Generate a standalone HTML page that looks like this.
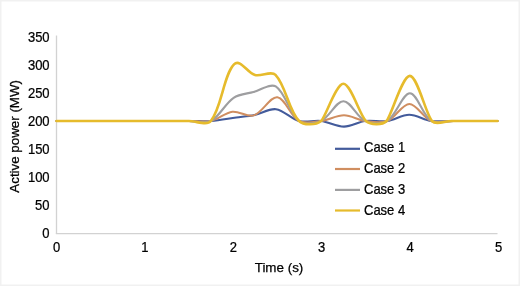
<!DOCTYPE html>
<html><head><meta charset="utf-8"><style>
html,body{margin:0;padding:0;background:#fff;}
body{width:520px;height:286px;overflow:hidden;}
svg{display:block;filter:blur(0.3px);}
text{font-family:"Liberation Sans",sans-serif;font-size:14px;fill:#000;stroke:#000;stroke-width:0.25px;}
</style></head><body>
<svg width="520" height="286" viewBox="0 0 520 286">
<rect x="0.75" y="0.75" width="518.5" height="284.5" fill="#fff" stroke="#f1f1f1" stroke-width="1.5"/>
<line x1="56.5" y1="35.5" x2="56.5" y2="233.9" stroke="#d2d2d2" stroke-width="1.3"/>
<line x1="55.85" y1="233.6" x2="497.5" y2="233.6" stroke="#d2d2d2" stroke-width="1.3"/>
<text transform="translate(49.6,238.4) scale(0.93,1)" text-anchor="end">0</text>
<text transform="translate(49.6,210.4) scale(0.93,1)" text-anchor="end">50</text>
<text transform="translate(49.6,182.4) scale(0.93,1)" text-anchor="end">100</text>
<text transform="translate(49.6,154.4) scale(0.93,1)" text-anchor="end">150</text>
<text transform="translate(49.6,126.4) scale(0.93,1)" text-anchor="end">200</text>
<text transform="translate(49.6,98.4) scale(0.93,1)" text-anchor="end">250</text>
<text transform="translate(49.6,70.4) scale(0.93,1)" text-anchor="end">300</text>
<text transform="translate(49.6,42.4) scale(0.93,1)" text-anchor="end">350</text>
<text transform="translate(56.5,252) scale(0.93,1)" text-anchor="middle">0</text>
<text transform="translate(144.9,252) scale(0.93,1)" text-anchor="middle">1</text>
<text transform="translate(233.3,252) scale(0.93,1)" text-anchor="middle">2</text>
<text transform="translate(321.7,252) scale(0.93,1)" text-anchor="middle">3</text>
<text transform="translate(410.1,252) scale(0.93,1)" text-anchor="middle">4</text>
<text transform="translate(498.5,252) scale(0.93,1)" text-anchor="middle">5</text>

<text transform="translate(279,272.2) scale(1.0,1)" text-anchor="middle" style="font-size:13.4px">Time (s)</text>
<text transform="translate(19.2,136.35) rotate(-90) scale(1.06,1)" text-anchor="middle" style="font-size:12.6px">Active power (MW)</text>
<path d="M56.50,121.00 L78.55,121.00 L100.60,121.00 L122.65,121.00 L144.70,121.00 L166.75,121.00 L188.80,121.00 C196.15,121.00 203.54,121.54 210.85,121.00 C219.37,120.37 227.82,118.65 236.31,117.47 C242.39,116.63 248.56,116.18 254.56,114.93 C261.78,113.42 269.13,108.25 275.96,109.18 C283.96,110.27 290.92,118.87 299.05,121.00 C305.96,122.81 313.86,120.10 321.10,121.00 C328.84,121.96 336.38,126.60 344.00,126.60 C351.08,126.60 358.01,121.93 365.20,121.00 C372.43,120.06 380.04,122.02 387.25,121.00 C394.70,119.95 401.87,114.78 409.18,114.78 C416.57,114.78 423.82,119.94 431.35,121.00 C438.56,122.01 446.05,121.00 453.40,121.00 L475.45,121.00 L497.50,121.00" fill="none" stroke="#435b9b" stroke-width="2.1" stroke-linecap="round" stroke-linejoin="round"/>
<path d="M56.50,121.00 L78.55,121.00 L100.60,121.00 L122.65,121.00 L144.70,121.00 L166.75,121.00 L188.80,121.00 C196.15,121.00 203.81,122.49 210.85,121.00 C218.33,119.41 224.95,112.73 232.37,111.76 C239.25,110.86 247.43,117.44 253.75,115.40 C262.43,112.59 270.11,96.32 277.37,97.22 C285.21,98.19 290.40,116.30 299.05,121.00 C304.98,124.22 313.86,121.92 321.10,121.00 C328.85,120.02 336.38,115.30 344.00,115.30 C351.08,115.30 358.01,120.05 365.20,121.00 C372.42,121.95 380.76,123.51 387.25,121.00 C395.49,117.81 402.03,103.90 409.40,103.90 C416.73,103.90 423.17,117.82 431.35,121.00 C437.83,123.52 446.05,121.00 453.40,121.00 L475.45,121.00 L497.50,121.00" fill="none" stroke="#d08e60" stroke-width="2.0" stroke-linecap="round" stroke-linejoin="round"/>
<path d="M56.50,121.00 L78.55,121.00 L100.60,121.00 L122.65,121.00 L144.70,121.00 L166.75,121.00 L188.80,121.00 C196.15,121.00 204.81,124.13 210.85,121.00 C219.75,116.39 224.93,103.70 233.62,97.80 C239.15,94.04 246.83,93.83 253.49,92.03 C260.87,90.03 270.35,82.96 275.74,86.39 C285.54,92.62 289.16,113.45 299.05,121.00 C304.28,124.99 314.82,123.81 321.10,121.00 C329.60,117.21 336.00,101.20 343.40,101.20 C350.70,101.20 356.84,117.23 365.20,121.00 C371.46,123.83 381.57,124.52 387.25,121.00 C396.47,115.29 402.47,93.30 409.90,93.30 C417.17,93.30 422.45,115.33 431.35,121.00 C436.95,124.57 446.05,121.00 453.40,121.00 L475.45,121.00 L497.50,121.00" fill="none" stroke="#9e9ea0" stroke-width="2.1" stroke-linecap="round" stroke-linejoin="round"/>
<path d="M56.50,121.00 L78.55,121.00 L100.60,121.00 L122.65,121.00 L144.70,121.00 L166.75,121.00 L188.80,121.00 C196.15,121.00 206.86,126.00 210.85,121.00 C221.92,107.13 223.37,75.47 234.00,64.40 C240.13,58.01 247.61,73.15 255.00,75.00 C261.44,76.61 271.34,70.46 275.50,74.80 C286.02,85.79 288.38,110.19 299.05,121.00 C303.58,125.59 316.12,125.18 321.10,121.00 C325.51,117.30 335.95,83.79 343.41,83.79 C350.89,83.79 360.07,115.95 365.92,121.00 C370.53,124.98 382.28,125.34 386.50,121.00 C391.18,116.19 402.18,75.90 409.80,75.90 C417.35,75.90 425.99,114.51 432.00,121.00 C435.91,125.22 445.06,121.00 451.59,121.00 L475.45,121.00 L497.50,121.00" fill="none" stroke="#e6bb2c" stroke-width="2.6" stroke-linecap="round" stroke-linejoin="round"/>
<line x1="335" y1="148.8" x2="360" y2="148.8" stroke="#435b9b" stroke-width="2.2"/>
<text transform="translate(364,152.3) scale(0.93,1)">Case 1</text>
<line x1="335" y1="169.0" x2="360" y2="169.0" stroke="#d08e60" stroke-width="2.2"/>
<text transform="translate(364,173.0) scale(0.93,1)">Case 2</text>
<line x1="335" y1="189.9" x2="360" y2="189.9" stroke="#9e9ea0" stroke-width="2.2"/>
<text transform="translate(364,194.0) scale(0.93,1)">Case 3</text>
<line x1="335" y1="210.5" x2="360" y2="210.5" stroke="#e6bb2c" stroke-width="2.2"/>
<text transform="translate(364,215.3) scale(0.93,1)">Case 4</text>

</svg>
</body></html>
